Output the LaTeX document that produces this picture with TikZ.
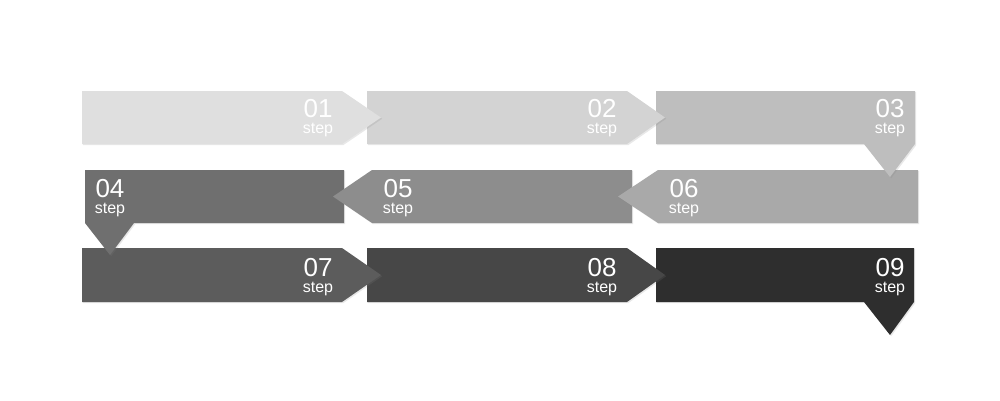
\documentclass[tikz,border=0pt]{standalone}
\usepackage{fontspec}
\setmainfont{Liberation Sans}
\usetikzlibrary{shadows}
\definecolor{c1}{HTML}{DFDFDF}
\definecolor{c2}{HTML}{D3D3D3}
\definecolor{c3}{HTML}{BEBEBE}
\definecolor{c4}{HTML}{6F6F6F}
\definecolor{c5}{HTML}{8D8D8D}
\definecolor{c6}{HTML}{A9A9A9}
\definecolor{c7}{HTML}{5C5C5C}
\definecolor{c8}{HTML}{474747}
\definecolor{c9}{HTML}{2E2E2E}
\tikzset{
  stepbox/.style={drop shadow={shadow xshift=1.2pt,shadow yshift=-1.2pt,opacity=0.18}},
  num/.style={text=white,inner sep=0pt,anchor=base,font=\fontsize{26}{26}\selectfont},
  lbl/.style={text=white,inner sep=0pt,anchor=base,font=\fontsize{16}{16}\selectfont}
}
\begin{document}
\begin{tikzpicture}[x=1pt,y=-1pt]
  \useasboundingbox[fill=white] (0,0) rectangle (1000,400);
  \fill[stepbox,fill=c9] (656,248) -- (914,248) -- (914,302) -- (890,335) -- (864,302) -- (656,302) -- cycle;
  \fill[stepbox,fill=c8] (367,248) -- (627,248) -- (665,275) -- (627,302) -- (367,302) -- cycle;
  \fill[stepbox,fill=c7] (82,248) -- (342,248) -- (381,275) -- (342,302) -- (82,302) -- cycle;
  \fill[stepbox,fill=c4] (85,170) -- (344,170) -- (344,223) -- (134,223) -- (110,255) -- (85,223) -- cycle;
  \fill[stepbox,fill=c5] (372,170) -- (632,170) -- (632,223) -- (372,223) -- (333,196.5) -- cycle;
  \fill[stepbox,fill=c6] (658,170) -- (918,170) -- (918,223) -- (658,223) -- (618,196.5) -- cycle;
  \fill[stepbox,fill=c3] (656,91) -- (915,91) -- (915,144) -- (890,177) -- (864,144) -- (656,144) -- cycle;
  \fill[stepbox,fill=c2] (367,91) -- (627,91) -- (665,117.5) -- (627,144) -- (367,144) -- cycle;
  \fill[stepbox,fill=c1] (82,91) -- (342,91) -- (381,117.5) -- (342,144) -- (82,144) -- cycle;

  \node[num] (01) at (318,117) {01};
  \node[num] (02) at (602,117) {02};
  \node[num] (03) at (890,117) {03};
  \node[num] (04) at (110,197) {04};
  \node[num] (05) at (398,197) {05};
  \node[num] (06) at (684,197) {06};
  \node[num] (07) at (318,276) {07};
  \node[num] (08) at (602,276) {08};
  \node[num] (09) at (890,276) {09};
  \node[lbl] (step01) at (318,133) {step};
  \node[lbl] (step02) at (602,133) {step};
  \node[lbl] (step03) at (890,133) {step};
  \node[lbl] (step04) at (110,213) {step};
  \node[lbl] (step05) at (398,213) {step};
  \node[lbl] (step06) at (684,213) {step};
  \node[lbl] (step07) at (318,292) {step};
  \node[lbl] (step08) at (602,292) {step};
  \node[lbl] (step09) at (890,292) {step};
\end{tikzpicture}
\end{document}
